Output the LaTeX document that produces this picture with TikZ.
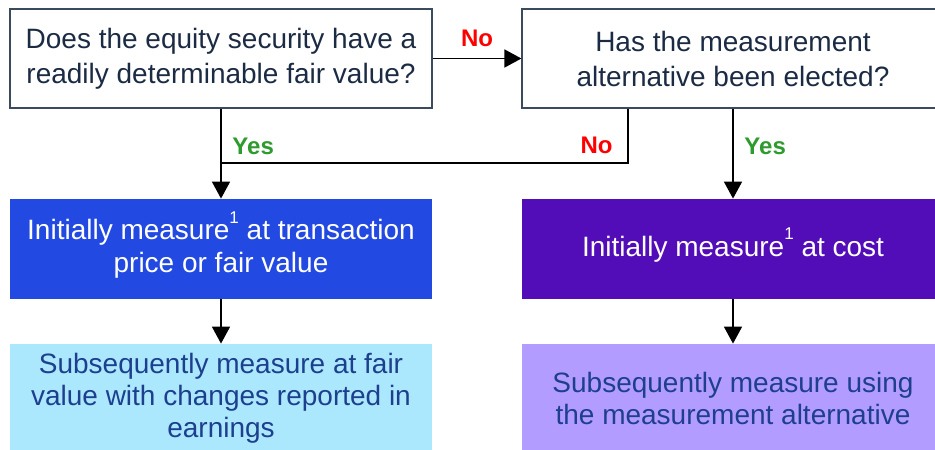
\documentclass[tikz,border=0pt]{standalone}
\usepackage{fontspec}
\setmainfont{Liberation Sans}
\usetikzlibrary{arrows.meta}

\definecolor{qtext}{HTML}{1C2B44}
\definecolor{qline}{HTML}{3C4A5E}
\definecolor{subtext}{HTML}{1E3F8E}
\definecolor{initblue}{HTML}{2249E1}
\definecolor{initpurple}{HTML}{520DB8}
\definecolor{subblue}{HTML}{ABE8FE}
\definecolor{sublav}{HTML}{B39CFF}
\definecolor{yesgreen}{HTML}{2E9B2E}
\definecolor{nored}{HTML}{FF0000}

\tikzset{
  box/.style={minimum width=211pt,align=center,inner sep=0pt},
  qbox/.style={box,draw=qline,line width=0.6pt,fill=white,text=qtext,minimum height=49.5pt,
    font=\fontsize{14}{17.5}\selectfont},
  initbox/.style={box,text=white,minimum height=50pt,font=\fontsize{14}{16.5}\selectfont},
  subbox/.style={box,text=subtext,minimum height=54pt,font=\fontsize{14}{16}\selectfont},
  yes/.style={text=yesgreen,font=\bfseries\fontsize{12}{12}\selectfont},
  no/.style={text=nored,font=\bfseries\fontsize{12}{12}\selectfont},
  link/.style={line width=0.8pt}
}
\newcommand{\fnmark}{\smash{\raisebox{1.1ex}{\fontsize{8.5}{8.5}\selectfont 1}}}

\begin{document}
\begin{tikzpicture}[x=0.5pt,y=-0.5pt,>={Triangle[width=9pt,length=8.5pt]}]
\clip (0,0) rectangle (935,449);
\fill[white] (0,0) rectangle (935,449);
\node[qbox] (q1) at (221,58.5) {Does the equity security have a\\readily determinable fair value?};
\node[qbox] (q2) at (733,58.5) {Has the measurement\\alternative been elected?};
\node[initbox,fill=initblue] (init1) at (221,249) {Initially measure\fnmark{} at transaction\\price or fair value};
\node[initbox,fill=initpurple] (init2) at (733,249) {Initially measure\fnmark{} at cost};
\node[subbox,fill=subblue] (sub1) at (221,398) {Subsequently measure at fair\\value with changes reported in\\earnings};
\node[subbox,fill=sublav] (sub2) at (733,398) {Subsequently measure using\\the measurement alternative};
\coordinate (join) at (628,163);
\draw[link,->] (q1) -- node[no,above=2pt] {No} (q2);
\draw[link,->] (q1) -- node[yes,pos=0.42,right=2pt] {Yes} (init1);
\draw[link] (q2.south -| join) |- node[no,pos=0.34,left=4pt] {No} (q1.south |- join);
\draw[link,->] (q2) -- node[yes,pos=0.42,right=2pt] {Yes} (init2);
\draw[link,->] (init1) -- (sub1);
\draw[link,->] (init2) -- (sub2);
\end{tikzpicture}
\end{document}
